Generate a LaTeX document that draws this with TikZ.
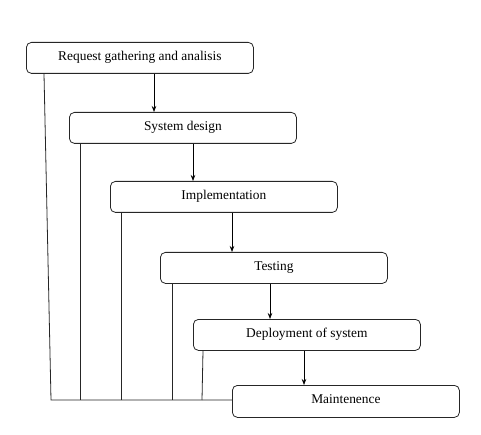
\documentclass[tikz,border=0pt]{standalone}
\usepackage{fontspec}
\setmainfont{Liberation Serif}
\usetikzlibrary{arrows.meta,calc}
\begin{document}
\begin{tikzpicture}[x=1pt,y=-1pt,
  stage/.style={draw=black!85,line width=0.8pt,rounded corners=5pt,minimum width=227pt,minimum height=31pt,inner sep=0pt,text height=9pt,text depth=4.5pt,font=\fontsize{13.4}{15}\selectfont,anchor=north west},
  flow/.style={draw=black,line width=0.7pt,-{Stealth[length=6pt,width=4.5pt]}},
  link/.style={draw=black!85,line width=0.8pt}]
\useasboundingbox (0,0) rectangle (481,435);
\node[stage] (b1) at (26,42) {Request gathering and analisis};
\node[stage] (b2) at (69,112) {System design};
\node[stage] (b3) at (110,181) {Implementation};
\node[stage] (b4) at (160,252) {Testing};
\node[stage] (b5) at (193,319) {Deployment of system};
\node[stage,minimum height=32pt] (b6) at (232,385) {Maintenence};
\draw[flow] (b1.south -| 154,0) -- (b2.north -| 154,0);
\draw[flow] (b2.south -| 193,0) -- (b3.north -| 193,0);
\draw[flow] (b3.south -| 232,0) -- (b4.north -| 232,0);
\draw[flow] (b4.south -| 270,0) -- (b5.north -| 270,0);
\draw[flow] (b5.south -| 304,0) -- (b6.north -| 304,0);
\coordinate (base) at (51,400);
\coordinate (e6) at (b6.west |- base);
\draw[link] (b1.south -| 44,0) -- (base) -- (e6);
\draw[link] (b2.south -| 80,0) -- (80,400);
\draw[link] (b3.south -| 121,0) -- (121,400);
\draw[link] (b4.south -| 172,0) -- (172,400);
\draw[link] (b5.south -| 203,0) -- (202,400);
\end{tikzpicture}
\end{document}
